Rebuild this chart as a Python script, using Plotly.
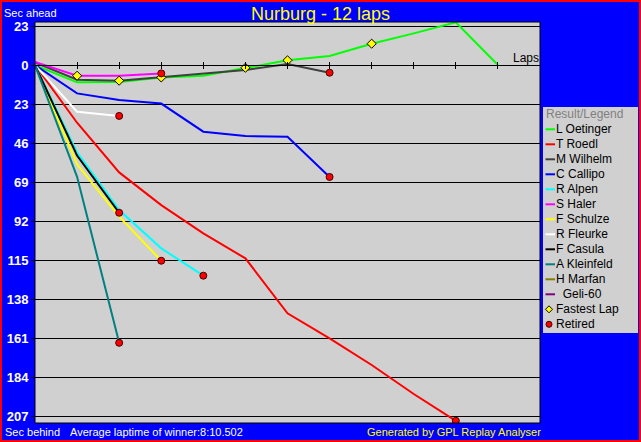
import plotly.graph_objects as go

# ---------------- data (seconds ahead +, behind -) ----------------
laps = list(range(0, 13))
lap_ticks = list(range(1, 12))
drivers = ["L Oetinger", "T Roedl", "M Wilhelm", "C Callipo", "R Alpen", "S Haler",
           "F Schulze", "R Fleurke", "F Casula", "A Kleinfeld", "H Marfan", "Geli-60"]
colors = ["#00FF00", "#FF0000", "#404040", "#0000FF", "#00FFFF", "#FF00FF",
          "#FFFF00", "#FFFFFF", "#000000", "#008080", "#808000", "#800080"]

oetinger = [0, -10.2, -10.0, -7.3, -6.3, -1.6, 2.8, 5.3, 12.6, 18.7, 25.2, 0]
roedl = [0, -34.0, -63.3, -82.6, -99.3, -114.0, -146.4, -161.2, -176.9, -194.0, -209.8]
wilhelm = [1.5, -8.6, -9.2, -7.0, -5.0, -2.9, 0.6, -4.5]
callipo = [0, -16.7, -20.6, -22.7, -39.3, -41.9, -42.3, -66.0]
alpen = [0, -51.5, -85.5, -108.1, -124.2]
haler = [1.8, -6.3, -6.3, -4.9]
schulze = [0, -58.5, -89.4, -115.4]
fleurke = [0, -27.5, -30.0]
casula = [0, -53.4, -87.1]
kleinfeld = [0, -65.9, -163.8]
marfan = []
geli = []
series = [oetinger, roedl, wilhelm, callipo, alpen, haler,
          schulze, fleurke, casula, kleinfeld, marfan, geli]

retired = ["T Roedl", "M Wilhelm", "C Callipo", "R Alpen", "S Haler",
           "F Schulze", "R Fleurke", "F Casula", "A Kleinfeld"]
fastest_driver = ["S Haler", "M Wilhelm", "L Oetinger", "L Oetinger", "L Oetinger", "L Oetinger"]
fastest_lap = [1, 2, 3, 5, 6, 8]

y_ticks = [23, 0, -23, -46, -69, -92, -115, -138, -161, -184, -207]
y_ticktext = [str(abs(v)) for v in y_ticks]
y_range = [-211.1, 25.4]
x_range = [0, 12]

title = "Nurburg - 12 laps"
avg_text = "Average laptime of winner:8:10.502"

# ---------------- geometry ----------------
W, H = 641, 442
L, R, T, B = 35, 540, 22, 423
FONT = "Liberation Sans, Arial, sans-serif"


def px(x):
    return (x - L) / (R - L)


def py(y):
    return (B - y) / (B - T)


lookup = dict(zip(drivers, series))

fig = go.Figure()

for name, col, vals in zip(drivers, colors, series):
    fig.add_trace(go.Scatter(x=laps[:len(vals)], y=vals, mode="lines", name=name,
                             line=dict(color=col, width=2), showlegend=False,
                             hoverinfo="skip"))

# fastest lap markers
fig.add_trace(go.Scatter(
    x=fastest_lap,
    y=[lookup[d][l] for d, l in zip(fastest_driver, fastest_lap)],
    mode="markers", name="Fastest Lap", showlegend=False, xaxis="x2",
    marker=dict(symbol="diamond", size=7, color="#FFFF00",
                line=dict(color="#000000", width=1))))

# retired markers
fig.add_trace(go.Scatter(
    x=[len(lookup[d]) - 1 for d in retired],
    y=[lookup[d][-1] for d in retired],
    mode="markers", name="Retired", showlegend=False, xaxis="x2",
    marker=dict(symbol="circle", size=7, color="#FF0000",
                line=dict(color="#400000", width=1))))

zero_pos = (0 - y_range[0]) / (y_range[1] - y_range[0])

shapes = []
# red outer border
shapes.append(dict(type="rect", xref="paper", yref="paper",
                   x0=px(0), x1=px(W), y0=py(H), y1=py(0),
                   line=dict(color="#FF0000", width=4), fillcolor="rgba(0,0,0,0)", layer="above"))
# plot frame
shapes.append(dict(type="rect", xref="paper", yref="paper", x0=0, x1=1, y0=0, y1=1,
                   line=dict(color="#000000", width=1), layer="above"))
# legend box
leg_x0, leg_x1, leg_y0, leg_y1 = 543, 638, 107, 333
shapes.append(dict(type="rect", xref="paper", yref="paper",
                   x0=px(leg_x0), x1=px(leg_x1), y0=py(leg_y1), y1=py(leg_y0),
                   line=dict(width=0), fillcolor="#D0D0D0", layer="below"))

annotations = []
annotations.append(dict(text=title, xref="paper", yref="paper", x=px(320), y=py(14),
                        xanchor="center", yanchor="middle", showarrow=False,
                        font=dict(family=FONT, size=18, color="#FFFF00")))
annotations.append(dict(text="Sec ahead", xref="paper", yref="paper", x=px(3), y=py(13.5),
                        xanchor="left", yanchor="middle", showarrow=False, borderpad=0,
                        font=dict(family=FONT, size=11, color="#FFFFFF")))
annotations.append(dict(text="Sec behind", xref="paper", yref="paper", x=px(3), y=py(432),
                        xanchor="left", yanchor="middle", showarrow=False,
                        font=dict(family=FONT, size=11, color="#FFFFFF")))
annotations.append(dict(text=avg_text, xref="paper", yref="paper", x=px(68), y=py(432),
                        xanchor="left", yanchor="middle", showarrow=False,
                        font=dict(family=FONT, size=11, color="#FFFFFF")))
annotations.append(dict(text="Generated by GPL Replay Analyser", xref="paper", yref="paper",
                        x=px(543), y=py(432), xanchor="right", yanchor="middle", showarrow=False,
                        font=dict(family=FONT, size=11, color="#FFFF00")))
annotations.append(dict(text="Laps", xref="paper", yref="paper", x=px(541), y=py(58),
                        xanchor="right", yanchor="middle", showarrow=False,
                        font=dict(family=FONT, size=12, color="#000000")))

# legend (custom, compact like the original)
annotations.append(dict(text="Result/Legend", xref="paper", yref="paper", x=px(544), y=py(114),
                        xanchor="left", yanchor="middle", showarrow=False,
                        font=dict(family=FONT, size=12, color="#808080")))
row0, gap = 129.3, 15.0
items = list(zip(drivers, colors)) + [("Fastest Lap", None), ("Retired", None)]
for i, (name, col) in enumerate(items):
    yc = row0 + i * gap
    label = name if name != "Geli-60" else "\u00a0\u00a0" + name
    if col is not None:
        shapes.append(dict(type="line", xref="paper", yref="paper",
                           x0=px(545.5), x1=px(555), y0=py(yc), y1=py(yc),
                           line=dict(color=col, width=2), layer="above"))
    elif name == "Fastest Lap":
        cx, r = 549, 3.5
        path = "M {a},{b} L {c},{d} L {e},{f} L {g},{h} Z".format(
            a=px(cx - r), b=py(yc), c=px(cx), d=py(yc - r),
            e=px(cx + r), f=py(yc), g=px(cx), h=py(yc + r))
        shapes.append(dict(type="path", xref="paper", yref="paper", path=path,
                           fillcolor="#FFFF00", line=dict(color="#000000", width=1), layer="above"))
    else:
        cx, r = 549, 3
        shapes.append(dict(type="circle", xref="paper", yref="paper",
                           x0=px(cx - r), x1=px(cx + r), y0=py(yc + r), y1=py(yc - r),
                           fillcolor="#FF0000", line=dict(color="#400000", width=1), layer="above"))
    annotations.append(dict(text=label, xref="paper", yref="paper", x=px(554), y=py(yc),
                            xanchor="left", yanchor="middle", showarrow=False,
                            font=dict(family=FONT, size=12, color="#000000")))

fig.update_layout(
    width=W, height=H, autosize=False,
    margin=dict(l=L, r=W - R, t=T, b=H - B, pad=0, autoexpand=False),
    paper_bgcolor="#0000FF", plot_bgcolor="#D0D0D0",
    showlegend=False,
    xaxis=dict(range=x_range, anchor="free", position=zero_pos, showgrid=False, zeroline=False,
               showline=True, linecolor="#000000", linewidth=1, automargin=False,
               tickmode="array", tickvals=lap_ticks, ticks="outside", ticklen=3,
               tickcolor="#000000", tickwidth=1, showticklabels=False, fixedrange=True),
    xaxis2=dict(range=x_range, overlaying="x", anchor="free", position=zero_pos, side="top",
                showgrid=False, zeroline=False, showline=False, automargin=False,
                tickmode="array", tickvals=lap_ticks, ticks="outside", ticklen=3,
                tickcolor="#000000", tickwidth=1, showticklabels=False),
    yaxis=dict(range=y_range, tickmode="array", tickvals=y_ticks, ticktext=y_ticktext,
               showgrid=True, gridcolor="#000000", gridwidth=1, zeroline=False,
               ticks="outside", ticklen=3, tickcolor="#000000", automargin=False,
               tickfont=dict(family=FONT, size=13, color="#FFFFFF", weight="bold"),
               showline=False),
    shapes=shapes, annotations=annotations,
)

fig.write_html("out.html", config={"displayModeBar": False},
               post_script="document.body.style.margin='0';document.body.style.padding='0';"
                           "document.body.style.overflow='hidden';")
